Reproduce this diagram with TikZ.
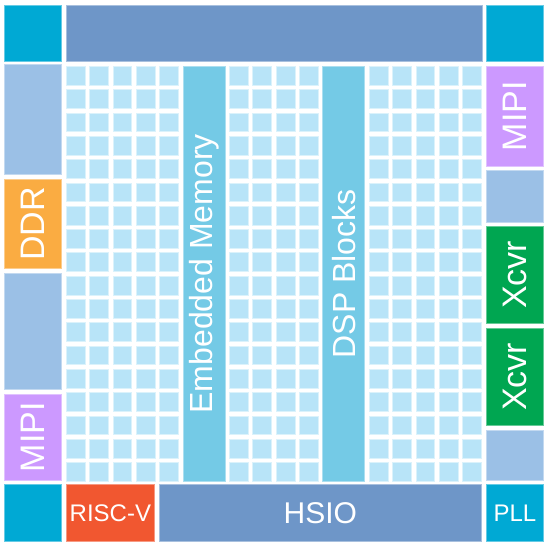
\documentclass[tikz,border=0pt]{standalone}
\usepackage{fontspec}
\setmainfont{Liberation Sans}
\usepackage{graphicx}
\usetikzlibrary{positioning}

\definecolor{padcyan}{RGB}{0,169,212}
\definecolor{steel}{RGB}{110,150,200}
\definecolor{sideblue}{RGB}{155,192,230}
\definecolor{ddrorange}{RGB}{250,172,66}
\definecolor{mipipurple}{RGB}{204,153,255}
\definecolor{xcvrgreen}{RGB}{0,166,81}
\definecolor{riscvred}{RGB}{241,87,48}
\definecolor{fabric}{RGB}{184,228,248}
\definecolor{hardblue}{RGB}{116,202,230}

\newcommand{\bigtxt}{\fontsize{34}{40}\selectfont}
\newcommand{\midtxt}{\fontsize{32}{38}\selectfont}
\newcommand{\smltxt}{\fontsize{24}{28}\selectfont}

\begin{document}
\begin{tikzpicture}[
      x=1pt, y=-1pt,
      every node/.style={text=white},
      blk/.style={rectangle, anchor=north west, inner sep=0pt, line width=0.7pt, fill=#1, draw=#1!60!white},
      cell/.style={rectangle, anchor=north west, inner sep=0pt, minimum size=18.8pt, line width=0.5pt, fill=fabric, draw=fabric!50!white},
    ]
    \fill[white] (0,0) rectangle (547,546);
    \useasboundingbox (0,0) rectangle (547,546);

    % corner pads and top/bottom rows
    \node[blk=padcyan, minimum width=57pt, minimum height=56pt] (tlpad) at (4,5) {};
    \node[blk=steel, minimum width=416pt, minimum height=56pt] (topbar) at (66,5) {};
    \node[blk=padcyan, minimum width=57pt, minimum height=56pt] (trpad) at (486,5) {};
    \node[blk=padcyan, minimum width=57pt, minimum height=57pt] (blpad) at (4,484) {};
    \node[blk=riscvred, minimum width=88pt, minimum height=57pt, font=\smltxt] (riscv) at (66,484) {RISC-V};
    \node[blk=steel, minimum width=322pt, minimum height=57pt, font=\fontsize{30}{36}\selectfont] (hsio) at (159,484) {HSIO};
    \node[blk=padcyan, minimum width=57pt, minimum height=57pt, font=\smltxt] (pll) at (486,484) {PLL};

    % left side
    \node[blk=sideblue, minimum width=57pt, minimum height=110pt] (lside1) at (4,64) {};
    \node[blk=ddrorange, minimum width=57pt, minimum height=89pt, font=\bigtxt] (ddr) at (4,179) {\rotatebox{90}{DDR}};
    \node[blk=sideblue, minimum width=57pt, minimum height=116pt] (lside2) at (4,273) {};
    \node[blk=mipipurple, minimum width=57pt, minimum height=86pt, font=\bigtxt] (lmipi) at (4,394) {\rotatebox{90}{MIPI}};

    % right side
    \node[blk=mipipurple, minimum width=57pt, minimum height=100pt, font=\bigtxt] (rmipi) at (486,66) {\rotatebox{90}{MIPI}};
    \node[blk=sideblue, minimum width=57pt, minimum height=52pt] (rside1) at (486,170) {};
    \node[blk=xcvrgreen, minimum width=57pt, minimum height=97pt, font=\bigtxt] (xcvra) at (486,226) {\rotatebox{90}{Xcvr}};
    \node[blk=xcvrgreen, minimum width=57pt, minimum height=97pt, font=\bigtxt] (xcvrb) at (486,328) {\rotatebox{90}{Xcvr}};
    \node[blk=sideblue, minimum width=57pt, minimum height=50pt] (rside2) at (486,430) {};

    % logic fabric
    \foreach \c in {0,1,2,3,4,7,8,9,10,13,14,15,16,17}{
      \foreach \r in {0,...,17}{
        \node[cell] (cell-\c-\r) at ({66+\c*23.3},{66+\r*23.3}) {};
      }
    }

    % hard columns
    \node[blk=hardblue, minimum width=42pt, minimum height=415pt, font=\midtxt] (embmem) at (182.5,66) {\rotatebox{90}{Embedded Memory}};
    \node[blk=hardblue, minimum width=42pt, minimum height=415pt, font=\midtxt] (dsp) at (322.3,66) {\rotatebox{90}{DSP Blocks}};
  \end{tikzpicture}
\end{document}
